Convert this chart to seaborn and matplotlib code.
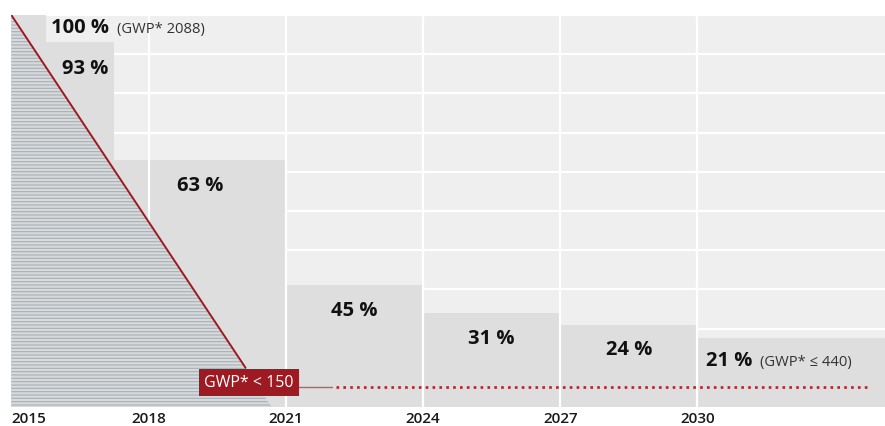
import numpy as np
import pandas as pd
import matplotlib
matplotlib.use("Agg")
import matplotlib.pyplot as plt
import seaborn as sns

# ---- data ----
step_edges = [2015, 2015.75, 2017.25, 2021, 2024, 2027, 2030, 2034.1]
bar_heights = [100, 93, 63, 31, 24, 21, 17.6]
bar_labels = ["100 %", "93 %", "63 %", "45 %", "31 %", "24 %", "21 %"]
tick_years = [2015, 2018, 2021, 2024, 2027, 2030]
tick_labels = ["2015", "2018", "2021", "2024", "2027", "2030"]
path_years = [2015, 2020.69]
path_values = [100, 0]
threshold_value = 5.1
threshold_label = "GWP* < 150"
threshold_box_year = 2020.2
threshold_box_value = 6.2
threshold_solid = [2021.25, 2022.0]
threshold_dotted = [2022.1, 2033.73]
first_note = "(GWP* 2088)"
last_note = "(GWP* \u2264 440)"

sns.set_theme(style="white")
plt.rcParams["font.family"] = ["Open Sans", "DejaVu Sans"]
plt.rcParams["hatch.linewidth"] = 0.8

BG = "#efefef"
BAR = "#dedede"
RED = "#9e1a22"
DOT = "#b3232c"

fig = plt.figure(figsize=(8.85, 4.26), dpi=100)
ax = fig.add_axes([0.01277, 0.0446, 1 - 0.01277, 0.9648 - 0.0446])
ax.set_facecolor(BG)

# bars
lefts = np.array(step_edges[:-1])
widths = np.diff(step_edges)
df = pd.DataFrame({"left": lefts, "width": widths, "height": bar_heights, "label": bar_labels})
ax.bar(df["left"], df["height"], width=df["width"], align="edge", color=BAR,
       edgecolor="none", linewidth=0, zorder=2)

# horizontal grid below bars
ax.set_yticks(range(0, 101, 10))
ax.yaxis.grid(True, color="white", linewidth=1.6)
ax.set_axisbelow(True)
ax.tick_params(axis="y", left=False, labelleft=False)

# vertical grid above bars
for yr in tick_years[1:]:
    ax.axvline(yr, color="white", linewidth=1.6, zorder=2.5)

# hatched budget triangle
ax.fill_between(path_years, path_values, 0, facecolor="#d7dadc", edgecolor="#a8afb3",
                hatch="-----", linewidth=0, zorder=3)

# red budget path, ending at the threshold box
box_top = 10
end_year = np.interp(box_top, path_values[::-1], path_years[::-1])
line_df = pd.DataFrame({"year": [path_years[0], end_year], "value": [path_values[0], box_top]})
sns.lineplot(data=line_df, x="year", y="value", ax=ax, color=RED, linewidth=1.4, zorder=4)

# threshold line
ax.plot(threshold_solid, [threshold_value] * 2, color="#c25a62", linewidth=1.0, zorder=4)
ax.plot(threshold_dotted, [threshold_value] * 2, color=DOT, linewidth=1.9,
        linestyle=(0, (1, 1.6)), dash_capstyle="butt", zorder=4)

ax.text(threshold_box_year, threshold_box_value, threshold_label, color="white", fontsize=11.5,
        ha="center", va="center", zorder=6,
        bbox=dict(boxstyle="square,pad=0.33", fc=RED, ec="none"))

# labels
lab_kw = dict(fontsize=14.5, fontweight="bold", color="#111111", va="center", zorder=7,
              textcoords="offset points")
centers = lefts + widths / 2
t0 = ax.annotate(bar_labels[0], xy=(step_edges[1], bar_heights[0]), xytext=(4, -9.5),
                 ha="left", **lab_kw)
ax.annotate(bar_labels[1], xy=(step_edges[2], bar_heights[1]), xytext=(-4.5, -19),
            ha="right", **lab_kw)
for i in range(2, 6):
    ax.annotate(bar_labels[i], xy=(centers[i], bar_heights[i]), xytext=(0, -18.5),
                ha="center", **lab_kw)
t6 = ax.annotate(bar_labels[6], xy=(step_edges[6], bar_heights[6]), xytext=(6, -16.5),
                 ha="left", **lab_kw)

note_kw = dict(fontsize=10.6, color="#333333", va="center", ha="left", zorder=7,
               textcoords="offset points")
ax.annotate(first_note, xy=(1, 0.5), xycoords=t0, xytext=(6, -1), **note_kw)
ax.annotate(last_note, xy=(1, 0.5), xycoords=t6, xytext=(6, -1), **note_kw)

# axes
ax.set_xlim(step_edges[0], step_edges[-1])
ax.set_ylim(0, 100)
ax.set_xticks(tick_years)
ax.set_xticklabels(tick_labels, fontsize=11, fontweight="semibold", color="#1a1a1a")
ax.get_xticklabels()[0].set_horizontalalignment("left")
ax.tick_params(axis="x", length=0, pad=3.5)
ax.set_xlabel("")
ax.set_ylabel("")
for s in ax.spines.values():
    s.set_visible(False)

fig.savefig("out.png", dpi=100, facecolor="white")
